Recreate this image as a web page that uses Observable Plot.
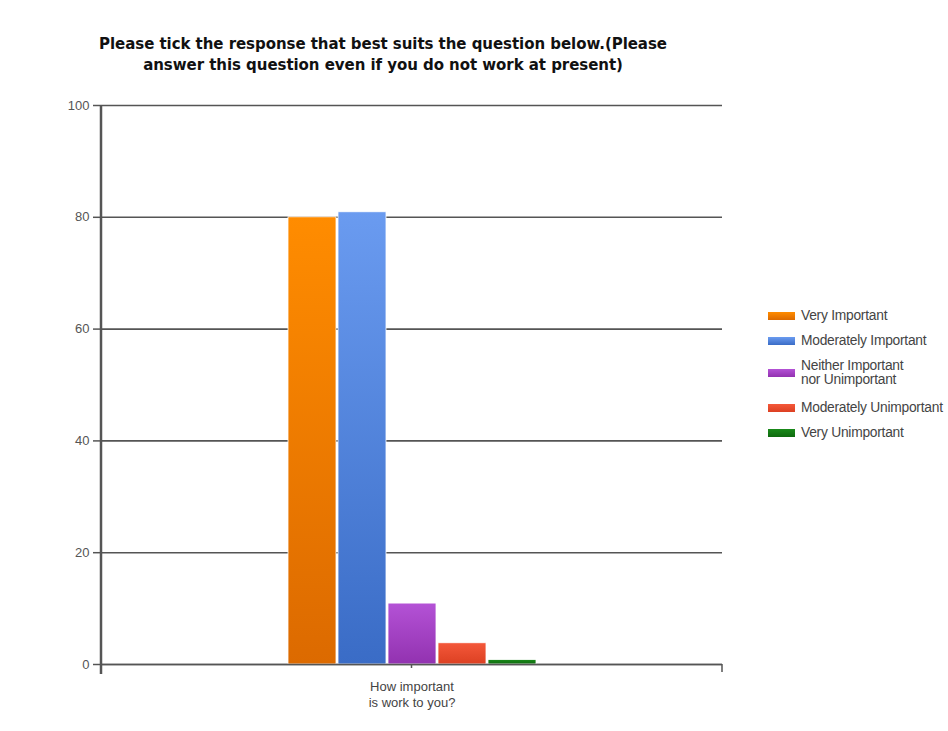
<!DOCTYPE html>
<html><head><meta charset="utf-8">
<script src="https://cdn.jsdelivr.net/npm/d3@7"></script>
<script src="https://cdn.jsdelivr.net/npm/@observablehq/plot@0.6"></script>
<style>
body{margin:0;background:#fff;width:948px;height:731px;position:relative;overflow:hidden;font-family:"Liberation Sans",Arial,sans-serif}
#title{position:absolute;left:0;width:766px;top:34px;text-align:center;font:bold 15px "DejaVu Sans",sans-serif;line-height:21px;color:#111;letter-spacing:-0.05px}
#legend{position:absolute;left:768px;top:309px;font:13.8px "Liberation Sans",sans-serif;color:#444;letter-spacing:-0.25px}
.row{display:flex;align-items:center;margin-bottom:11px;height:14px}
.row.two{height:28px;margin-bottom:14px}
.sw{width:27px;height:8px;margin-right:6px;flex:none}
.lab{line-height:14px}
#chart{position:absolute;left:0;top:0}
</style></head><body>
<div id="chart"></div>
<div id="title">Please tick the response that best suits the question below.(Please<br>answer this question even if you do not work at present)</div>
<div id="legend"></div>
<script>
const question = "How important\nis work to you?";
const responses = ["Very Important","Moderately Important","Neither Important\nnor Unimportant","Moderately Unimportant","Very Unimportant"];
const values = [80.0, 80.9, 10.9, 3.8, 0.8];
const topColors = ["#ff8c00","#6a9bf0","#b452d6","#f4583a","#1a8a1a"];
const bottomColors = ["#dc6a00","#3a6cc6","#9232b0","#dc4022","#0f6a0f"];
const yTicks = [0,20,40,60,80,100];

const data = responses.map((r,i)=>({response:r, value:values[i], grad:`url(#g${i})`}));

function axisLines(index, scales, values, dims) {
  const g = d3.create("svg:g").attr("stroke", "#555");
  const x0 = dims.marginLeft, x1 = dims.width - dims.marginRight;
  const yb = scales.y(0), yt = scales.y(100);
  g.append("line").attr("x1", x0).attr("x2", x0).attr("y1", yt).attr("y2", yb + 10).attr("stroke-width", 2.5);
  g.append("line").attr("x1", x1).attr("x2", x1).attr("y1", yb).attr("y2", yb + 8).attr("stroke-width", 1.5);
  const xc = (x0 + x1) / 2;
  g.append("line").attr("x1", xc).attr("x2", xc).attr("y1", yb).attr("y2", yb + 4).attr("stroke-width", 1.5);
  return g.node();
}

const chart = Plot.plot({
  width: 948, height: 731,
  marginLeft: 101, marginRight: 226, marginTop: 105, marginBottom: 67,
  style: {fontFamily: "Liberation Sans, sans-serif", fontSize: "12px", color: "#444"},
  x: {domain: responses, paddingInner: 0.04, paddingOuter: 3.71, axis: null},
  y: {domain: [0,100], ticks: yTicks, axis: null},
  color: {type: "identity"},
  marks: [
    Plot.ruleY(yTicks, {stroke: "#555", strokeWidth: 1.6}),
    Plot.axisY(yTicks, {tickSize: 8, tickPadding: 4, stroke: "#555", strokeWidth: 1.5, fill: "#555", fontSize: 13, label: null}),
    Plot.barY(data, {x: "response", y: "value", fill: "grad", stroke: "#fff", strokeWidth: 0.8}),
    Plot.ruleY([0], {stroke: "#555", strokeWidth: 1.6}),
    axisLines,
    Plot.text([question], {frameAnchor: "bottom", dy: 14, lineHeight: 1.3, fill: "#444", fontSize: 13, lineAnchor: "top"})
  ]
});
const svg = d3.select(chart);
const defs = svg.insert("defs", ":first-child");
topColors.forEach((c,i)=>{
  const g = defs.append("linearGradient").attr("id",`g${i}`).attr("x1",0).attr("y1",0).attr("x2",0).attr("y2",1);
  g.append("stop").attr("offset","0%").attr("stop-color",c);
  g.append("stop").attr("offset","100%").attr("stop-color",bottomColors[i]);
});
document.getElementById("chart").appendChild(chart);

const leg = document.getElementById("legend");
responses.forEach((r,i)=>{
  const row = document.createElement("div");
  row.className = "row" + (r.includes("\n") ? " two" : "");
  const sw = document.createElement("div");
  sw.className = "sw";
  sw.style.background = `linear-gradient(${topColors[i]}, ${bottomColors[i]})`;
  const lab = document.createElement("div");
  lab.className = "lab";
  lab.innerHTML = r.replace("\n","<br>");
  row.appendChild(sw); row.appendChild(lab);
  leg.appendChild(row);
});
</script>
</body></html>
